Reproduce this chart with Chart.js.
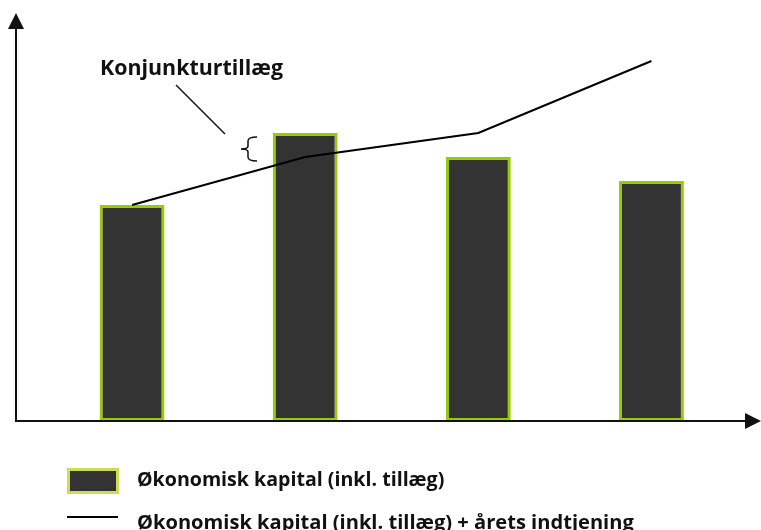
<!DOCTYPE html>
<html lang="da">
<head>
<meta charset="utf-8">
<title>Økonomisk kapital og konjunkturtillæg</title>
<script src="https://cdn.jsdelivr.net/npm/chart.js@4.4.1/dist/chart.umd.min.js"></script>
<style>
  html, body { margin: 0; padding: 0; background: #fff; }
  #wrap { position: relative; width: 761px; height: 530px; }
</style>
</head>
<body>
<div id="wrap"><canvas id="capital-chart"></canvas></div>
<script>
// Kapital pr. år (ingen aksetekster i diagrammet)
const categories = ['År 1', 'År 2', 'År 3', 'År 4'];
const capitalValues = [54, 72, 66, 60];
const capitalPlusEarnings = [54, 66, 72, 90];

const barLabel = 'Økonomisk kapital (inkl. tillæg)';
const lineLabel = 'Økonomisk kapital (inkl. tillæg) + årets indtjening';
const noteLabel = 'Konjunkturtillæg';

const FONT = '"Open Sans", "Noto Sans", sans-serif';

function arrowHead(ctx, tipX, tipY, dir) {
  ctx.beginPath();
  if (dir === 'up') {
    ctx.moveTo(tipX, tipY);
    ctx.lineTo(tipX - 8, tipY + 16);
    ctx.lineTo(tipX + 8, tipY + 16);
  } else {
    ctx.moveTo(tipX, tipY);
    ctx.lineTo(tipX - 16, tipY - 8);
    ctx.lineTo(tipX - 16, tipY + 8);
  }
  ctx.closePath();
  ctx.fill();
}

// fed tekst skaleret til en given bredde
function fitText(ctx, text, x, y, width, baseSize) {
  ctx.font = 'bold ' + baseSize + 'px ' + FONT;
  const w = ctx.measureText(text).width;
  const size = Math.min(baseSize * 1.3, baseSize * width / w);
  ctx.font = 'bold ' + size.toFixed(1) + 'px ' + FONT;
  ctx.fillText(text, x, y);
}

// Akser med pile, konjunkturtillæg-note og forklaring
const decorPlugin = {
  id: 'decor',
  afterDatasetsDraw(chart) {
    const ctx = chart.ctx;
    const area = chart.chartArea;
    const axisX = 16;
    const axisY = area.bottom;
    ctx.save();
    ctx.strokeStyle = '#111';
    ctx.fillStyle = '#111';
    ctx.lineWidth = 2;
    ctx.beginPath();
    ctx.moveTo(axisX, axisY);
    ctx.lineTo(axisX, 26);
    ctx.moveTo(axisX - 1, axisY);
    ctx.lineTo(748, axisY);
    ctx.stroke();
    arrowHead(ctx, axisX, 13, 'up');
    arrowHead(ctx, 761, axisY, 'right');

    // note med streg og klamme
    ctx.fillStyle = '#111';
    ctx.textBaseline = 'alphabetic';
    fitText(ctx, noteLabel, 100, 75, 183, 20);
    ctx.lineWidth = 1.5;
    ctx.beginPath();
    ctx.moveTo(176, 85);
    ctx.lineTo(225, 134);
    ctx.stroke();
    ctx.beginPath();
    ctx.moveTo(257, 137);
    ctx.quadraticCurveTo(248, 137, 248, 141);
    ctx.lineTo(248, 146);
    ctx.quadraticCurveTo(248, 149, 241, 149);
    ctx.quadraticCurveTo(248, 149, 248, 152);
    ctx.lineTo(248, 157);
    ctx.quadraticCurveTo(248, 161, 257, 161);
    ctx.stroke();

    // forklaring
    const bar = chart.data.datasets[1];
    const line = chart.data.datasets[0];
    ctx.fillStyle = bar.backgroundColor;
    ctx.fillRect(67, 468, 52, 26);
    ctx.strokeStyle = '#cddc57';
    ctx.lineWidth = 3;
    ctx.strokeRect(68.5, 469.5, 49, 23);
    ctx.strokeStyle = line.borderColor;
    ctx.lineWidth = 2;
    ctx.beginPath();
    ctx.moveTo(67, 517);
    ctx.lineTo(118, 517);
    ctx.stroke();
    ctx.fillStyle = '#111';
    fitText(ctx, bar.label, 137, 486, 308, 18);
    fitText(ctx, line.label, 137, 529, 498, 18);
    ctx.restore();
  }
};

const chartCanvas = document.getElementById('capital-chart');
new Chart(chartCanvas, {
  data: {
    labels: categories,
    datasets: [
      {
        type: 'line',
        label: lineLabel,
        data: capitalPlusEarnings,
        borderColor: '#000',
        borderWidth: 2,
        pointRadius: 0,
        tension: 0,
        order: 0
      },
      {
        type: 'bar',
        label: barLabel,
        data: capitalValues,
        backgroundColor: '#333333',
        borderColor: '#99cc00',
        borderWidth: 3,
        borderSkipped: false,
        barPercentage: 0.375,
        categoryPercentage: 1,
        order: 1
      }
    ]
  },
  options: {
    responsive: true,
    maintainAspectRatio: false,
    animation: false,
    layout: { padding: { left: 45.5, right: 23, top: 21, bottom: 109 } },
    scales: {
      x: { display: false, offset: true },
      y: { display: false, min: 0, max: 100 }
    },
    plugins: {
      legend: { display: false },
      tooltip: { enabled: false }
    }
  },
  plugins: [decorPlugin]
});
</script>
</body>
</html>
